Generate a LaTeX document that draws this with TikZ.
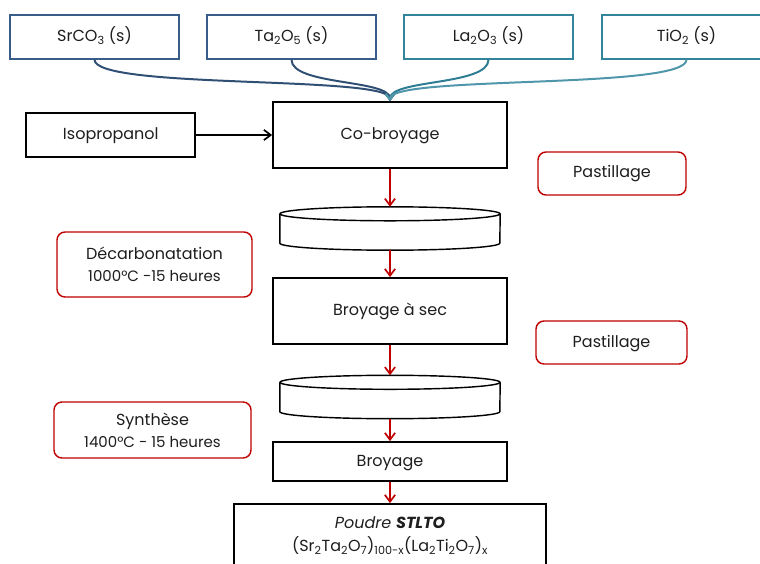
\documentclass[tikz,border=0pt]{standalone}
\usepackage{fontspec}
\setmainfont{Poppins}
\usepackage{tikz}
\usetikzlibrary{positioning,arrows.meta}
\definecolor{rouge}{RGB}{192,0,0}
\definecolor{bleu}{RGB}{56,93,138}
\definecolor{sarcelle}{RGB}{49,132,155}
\definecolor{texte}{RGB}{30,30,30}
\tikzset{%
  flow/.style     = { -{Straight Barb[length=2.4mm,width=3.6mm]}, line width = 0.6mm, draw = #1 },
  feed/.style     = { -{Straight Barb[length=2mm,width=3mm]}, line width = 0.7mm, draw = #1 },
  ligne/.style    = { text height = 11pt, text depth = 2pt },
  src/.style      = { fill = white, draw = #1, line width = 0.45mm, text = texte, ligne,
                      minimum width = 169pt, minimum height = 44pt, font = \fontsize{16}{22}\selectfont },
  etape/.style    = { fill = white, draw = black, line width = 0.6mm, text = texte, align = center,
                      minimum width = 234pt, font = \fontsize{16}{23}\selectfont },
  note/.style     = { fill = white, draw = rouge, line width = 0.5mm, rounded corners = 8pt, text = texte,
                      align = center, font = \fontsize{16}{22}\selectfont },
  disque/.style   = { minimum width = 220pt, minimum height = 43pt, inner sep = 0pt },
  paroi/.style    = { draw = black, fill = white, line width = 0.5mm }
}
\begin{document}
\begin{tikzpicture}[x=1pt, y=-1pt]
\useasboundingbox (0,0) rectangle (760,564);

% matieres premieres
\node(sr) [src=bleu]     at (94.5,37)  {SrCO\textsubscript{3} (s)};
\node(ta) [src=bleu]     at (291.5,37) {Ta\textsubscript{2}O\textsubscript{5} (s)};
\node(la) [src=sarcelle] at (488.5,37) {La\textsubscript{2}O\textsubscript{3} (s)};
\node(ti) [src=sarcelle] at (686.5,37) {TiO\textsubscript{2} (s)};

% chaine de synthese
\node(cob)  [etape, ligne, minimum height = 66pt] at (390,135)   {Co-broyage};
\node(iso)  [etape, ligne, minimum width = 169pt, minimum height = 44pt, left = 76pt of cob] {Isopropanol};
\node(d1)   [disque]                              at (390,228.5) {};
\node(sec)  [etape, ligne, minimum height = 66pt] at (390,311)   {Broyage à sec};
\node(d2)   [disque]                              at (390,397)   {};
\node(bro)  [etape, ligne, minimum height = 39pt] at (390,461.5) {Broyage};
\node(pou)  [etape, minimum width = 312pt, minimum height = 64pt] at (390,536)
  {\textit{Poudre \textbf{STLTO}}\\(Sr\textsubscript{2}Ta\textsubscript{2}O\textsubscript{7})\textsubscript{100-x}(La\textsubscript{2}Ti\textsubscript{2}O\textsubscript{7})\textsubscript{x}};

% pastilles
\foreach \d in {d1,d2} {
  \draw[paroi] ([yshift=-7pt]\d.north west) -- ([yshift=7pt]\d.south west)
    arc[start angle=180, end angle=360, x radius=110pt, y radius=7pt]
    -- ([yshift=-7pt]\d.north east);
  \draw[paroi] ([yshift=-7pt]\d.north) ellipse [x radius=110pt, y radius=7pt];
}

% traitements
\node(pa1)  [note, ligne, minimum width = 148pt, minimum height = 43pt] at (612,173.5) {Pastillage};
\node(dec)  [note, minimum width = 195pt, minimum height = 65pt] at (154.5,264.5)
  {Décarbonatation\\{\fontsize{15}{22}\selectfont 1000°C -15 heures}};
\node(pa2)  [note, ligne, minimum width = 151pt, minimum height = 43pt] at (611.5,342.5) {Pastillage};
\node(syn)  [note, minimum width = 197pt, minimum height = 56pt] at (152.5,430)
  {Synthèse\\{\fontsize{15}{22}\selectfont 1400°C - 15 heures}};

\draw[feed=bleu!85!black]      (sr.south) .. controls +(0,30) and +(0,-26) .. (cob.north);
\draw[feed=bleu!85!black]      (ta.south) .. controls +(0,26) and +(0,-22) .. (cob.north);
\draw[feed=sarcelle!95!black]  (la.south) .. controls +(0,26) and +(0,-22) .. (cob.north);
\draw[feed=sarcelle!85!white]  (ti.south) .. controls +(0,30) and +(0,-26) .. (cob.north);

\draw[flow=black] (iso) -- (cob);
\draw[flow=rouge] (cob) -- (d1);
\draw[flow=rouge] (d1)  -- (sec);
\draw[flow=rouge] (sec) -- (d2);
\draw[flow=rouge] (d2)  -- (bro);
\draw[flow=rouge] (bro) -- (pou);
\end{tikzpicture}
\end{document}
